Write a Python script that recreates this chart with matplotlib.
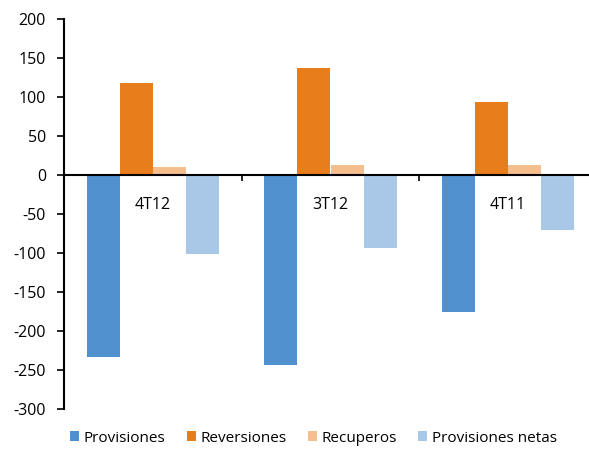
import numpy as np
import matplotlib.pyplot as plt
plt.rcParams.update({'font.family': ['Open Sans', 'DejaVu Sans'],
                     'axes.unicode_minus': False})

# datos
periodos = ['4T12', '3T12', '4T11']
provisiones = [-233, -244, -175]
reversiones = [118, 137, 93]
recuperos = [10, 13, 13]
provisiones_netas = [-101, -94, -71]

series = [('Provisiones', provisiones, '#5190CE'),
          ('Reversiones', reversiones, '#E87D1C'),
          ('Recuperos', recuperos, '#F4BE8F'),
          ('Provisiones netas', provisiones_netas, '#A9C8E7')]

fig = plt.figure(figsize=(5.89, 4.49), dpi=100)
ax = fig.add_axes([64/589, 40/449, 533/589, 390/449])

x = np.arange(len(periodos))
w = 0.186
for k, (nombre, valores, color) in enumerate(series):
    ax.bar(x + (k - 1.5)*w, valores, w, color=color, label=nombre, zorder=2)

ax.set_xlim(-0.5, 2.5)
ax.set_ylim(-300, 200)
ax.set_yticks(np.arange(-300, 201, 50))

ax.spines['top'].set_visible(False)
ax.spines['right'].set_visible(False)
ax.spines['bottom'].set_position(('data', 0))
ax.spines['left'].set_linewidth(1.5)
ax.spines['bottom'].set_linewidth(1.5)
ax.spines['bottom'].set_zorder(3)

ax.set_xticks(x)
ax.set_xticklabels(periodos, fontsize=11.5)
ax.tick_params(axis='x', which='major', length=0, pad=16)
ax.set_xticks([0.5, 1.5], minor=True)
ax.tick_params(axis='x', which='minor', length=4, width=1.2, direction='out')
ax.tick_params(axis='y', length=5, width=1.2, labelsize=11.5, pad=8)

fig.legend(loc='center', bbox_to_anchor=(0.532, 11/449), ncol=4, frameon=False,
           fontsize=11, handlelength=0.6, handleheight=0.6, handletextpad=0.3,
           columnspacing=1.4)

plt.savefig('out.png', dpi=100)
